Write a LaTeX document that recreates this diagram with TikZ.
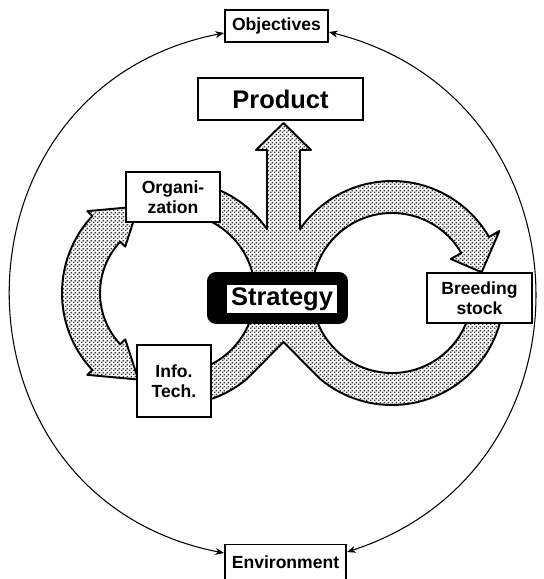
\documentclass[tikz,border=0pt]{standalone}
\usepackage{fontspec}
\setmainfont{Liberation Sans}
\usetikzlibrary{calc, arrows.meta, backgrounds, patterns.meta}

\tikzdeclarepattern{
  name = stipple,
  type = uncolored,
  bottom left = {(0pt,0pt)},
  top right = {(2pt,2pt)},
  tile size = {(2pt,2pt)},
  code = {
    \fill (0pt,0pt) rectangle (0.95pt,0.95pt);
    \fill (1pt,1pt) rectangle (1.95pt,1.95pt);
  }
}

\begin{document}
\begin{tikzpicture}[
			x = 0.02cm, y = -0.02cm,
			>={Stealth[length=5pt, width=4pt]},
			every node/.style = {draw, line width = 1.1pt, fill = white, inner sep = 0pt,
				align = center, font = \fontsize{10}{11.5}\selectfont\bfseries},
			big font/.style = {font = \fontsize{14.5}{16}\selectfont\bfseries},
			band/.style = {draw, line width = 1.1pt, line join = round,
				pattern = stipple, pattern color = black!80},
			ring/.style = {<->, line width = 0.6pt}]
			\useasboundingbox (0,0) rectangle (544,579);
	
			% boxes
			\node[minimum width = 2.06cm, minimum height = 0.64cm] (obj) at (276.5,26) {Objectives};
			\node[minimum width = 2.42cm, minimum height = 0.7cm] (env) at (285.5,562) {Environment};
			\node[big font, minimum width = 3.3cm, minimum height = 0.84cm] (prod) at (280.5,99) {Product};
			\node[minimum width = 1.88cm, minimum height = 1cm] (org) at (173,197) {Organi-\\zation};
			\node[minimum width = 1.48cm, minimum height = 1.44cm] (info) at (174,381) {Info.\\Tech.};
			\node[minimum width = 2.1cm, minimum height = 1cm] (breed) at (479.5,298) {Breeding\\stock};
			\node[fill = black, rounded corners = 0.16cm, minimum width = 2.78cm, minimum height = 1cm] (frame) at (277.5,298) {};
			\node[big font, draw = none, minimum width = 2.2cm, minimum height = 0.56cm] (strat) at (282,299) {Strategy};
	
			% outer ring
			\draw[ring] ([yshift=-0.14cm]obj.west) to[bend right=79, looseness=1.43] ([yshift=0.18cm]env.west);
			\draw[ring] ([yshift=-0.12cm]obj.east) to[bend left=74, looseness=1.34] ([yshift=0.2cm]env.east);
	
			% the loops
			\begin{scope}[on background layer]
				\coordinate (cl) at (175,293);
				\coordinate (cr) at (392,293);
				\draw[band] ($(cl)+(137:113)$) arc[start angle=137, end angle=223, radius=113]
					-- ($(cl)+(223:120)$) -- ($(cl)+(247:94)$) -- ($(cl)+(223:68)$) -- ($(cl)+(223:75)$)
					arc[start angle=223, end angle=137, radius=75]
					-- ($(cl)+(137:68)$) -- ($(cl)+(113:94)$) -- ($(cl)+(137:120)$) -- cycle;
				\draw[band] ($(cl)+(-80:112)$) arc[start angle=-80, end angle=-34.8, radius=112]
					-- (267,150) -- (256,150) -- (283.5,123) -- (311,150) -- (300,150)
					-- ($(cr)+(-145.2:112)$) arc[start angle=-145.2, end angle=-30, radius=112]
					-- ($(cr)+(-30:124)$) -- ($(cr)+(-13:92)$) -- ($(cr)+(-30:68)$) -- ($(cr)+(-30:80)$)
					arc[start angle=-30, end angle=-170, radius=80]
					-- ($(cl)+(-10:80)$) arc[start angle=-10, end angle=-80, radius=80] -- cycle;
				\draw[band] ($(cl)+(80:112)$) arc[start angle=80, end angle=50, radius=112]
					-- (283.5,342) -- ($(cr)+(130:112)$) arc[start angle=130, end angle=10, radius=112]
					-- ($(cr)+(10:80)$) arc[start angle=10, end angle=170, radius=80]
					-- ($(cl)+(10:80)$) arc[start angle=10, end angle=80, radius=80] -- cycle;
			\end{scope}
		\end{tikzpicture}
\end{document}
